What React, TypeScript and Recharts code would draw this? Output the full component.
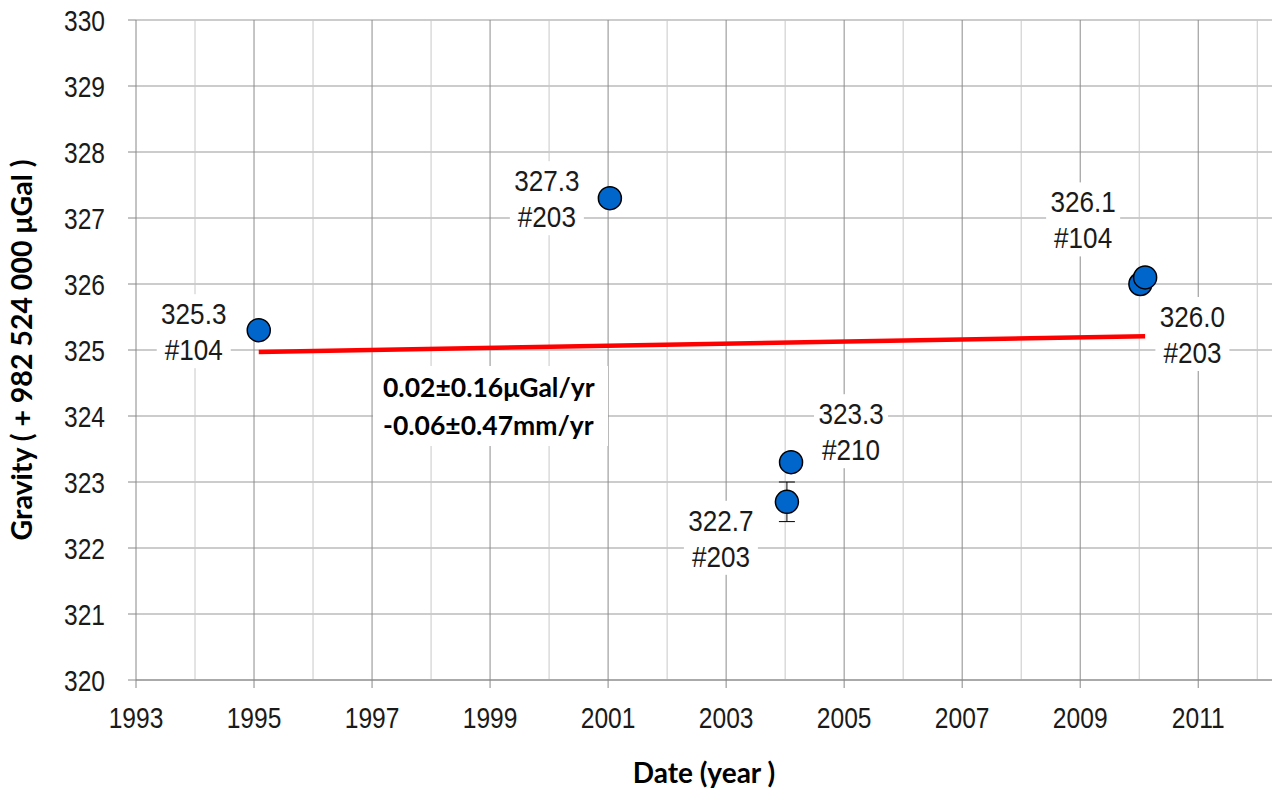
import {
  ComposedChart,
  Scatter,
  Line,
  XAxis,
  YAxis,
  CartesianGrid,
  ReferenceLine,
  ErrorBar,
} from "recharts";

// observation dates (decimal year), gravity values, error, station ids
const dates = [1995.08, 2001.03, 2004.03, 2004.1, 2010.02, 2010.1];
const gravity = [325.3, 327.3, 322.7, 323.3, 326.0, 326.1];
const errors = [0, 0, 0.3, 0, 0, 0];
const stations = ["#104", "#203", "#203", "#210", "#203", "#104"];

// linear fit end points
const trendDates = [1995.08, 2010.1];
const trendValues = [324.97, 325.21];

const yTicks = [320, 321, 322, 323, 324, 325, 326, 327, 328, 329, 330];
const xTicks = [1993, 1995, 1997, 1999, 2001, 2003, 2005, 2007, 2009, 2011];
const gridYears = [
  1994, 1995, 1996, 1997, 1998, 1999, 2000, 2001, 2002, 2003, 2004, 2005,
  2006, 2007, 2008, 2009, 2010, 2011, 2012,
];

const points = dates.map((d, i) => ({
  date: d,
  value: gravity[i],
  err: errors[i],
  station: stations[i],
}));
const trend = trendDates.map((d, i) => ({ date: d, fit: trendValues[i] }));

// label placement around each point (first line centre relative to the marker)
const labelPlace = [
  { dx: -65, dy: -17 },
  { dx: -63, dy: -18 },
  { dx: -66, dy: 18 },
  { dx: 60, dy: -49 },
  { dx: 52, dy: 32 },
  { dx: -62, dy: -76 },
];

const narrowFont = "'Liberation Sans', Arial, sans-serif";

function NarrowText({ x, y, anchor, dy, size, sx, children }: any) {
  return (
    <g transform={`translate(${x},${y}) scale(${sx},1)`}>
      <text x={0} y={0} dy={dy} textAnchor={anchor} fontFamily={narrowFont} fontSize={size} fill="#1a1a1a">
        {children}
      </text>
    </g>
  );
}

function XTick(props: any) {
  const { x, y, payload } = props;
  return (
    <NarrowText x={x} y={y} anchor="middle" dy="0.71em" size={30} sx={0.82}>
      {payload.value}
    </NarrowText>
  );
}

function YTick(props: any) {
  const { x, y, payload } = props;
  return (
    <NarrowText x={x} y={y} anchor="end" dy="0.36em" size={30} sx={0.82}>
      {payload.value}
    </NarrowText>
  );
}

function PointShape(props: any) {
  const { cx, cy, payload, index } = props;
  const p = labelPlace[index] || { dx: 0, dy: 0 };
  const lx = cx + p.dx;
  const ly = cy + p.dy;
  return (
    <g>
      <rect x={lx - 37} y={ly - 19} width={74} height={74} fill="#fff" />
      <NarrowText x={lx} y={ly} anchor="middle" dy="0.36em" size={30} sx={0.87}>
        {payload.value.toFixed(1)}
      </NarrowText>
      <NarrowText x={lx} y={ly + 36} anchor="middle" dy="0.36em" size={30} sx={0.87}>
        {payload.station}
      </NarrowText>
      <circle cx={cx} cy={cy} r={11.5} fill="#0066CC" stroke="#000" strokeWidth={1.5} />
    </g>
  );
}

export default function App() {
  return (
    <div style={{ position: "relative", width: 1273, height: 791 }}>
      <style>{`body{margin:0}`}</style>
      <ComposedChart
        width={1273}
        height={791}
        margin={{ top: 20, right: 1, left: 0, bottom: 0 }}
      >
        <CartesianGrid vertical={false} stroke="#999" strokeWidth={1} />
        {gridYears.map((yr) => (
          <ReferenceLine
            key={yr}
            x={yr}
            stroke={yr % 2 === 1 ? "#8c8c8c" : "#c8c8c8"}
            strokeWidth={1}
          />
        ))}
        <XAxis
          dataKey="date"
          type="number"
          domain={[1993, 2012.25]}
          ticks={xTicks}
          allowDataOverflow
          height={111}
          tickSize={8}
          tickMargin={19}
          stroke="#888"
          tick={<XTick />}
          label={{
            value: "Date (year )",
            position: "insideBottom",
            offset: 8,
            style: { fontFamily: "Lato, sans-serif", fontWeight: 700, fontSize: 28, fill: "#000" },
          }}
        />
        <YAxis
          type="number"
          domain={[320, 330]}
          ticks={yTicks}
          width={136}
          tickSize={8}
          tickMargin={23}
          stroke="#888"
          tick={<YTick />}
          label={{
            value: "Gravity ( + 982 524 000 μGal )",
            angle: -90,
            position: "insideLeft",
            offset: 22,
            style: {
              textAnchor: "middle",
              fontFamily: "Lato, sans-serif",
              fontWeight: 700,
              fontSize: 28.5,
              fill: "#000",
            },
          }}
        />
        <Line
          data={trend}
          dataKey="fit"
          stroke="#FF0000"
          strokeWidth={4.5}
          dot={false}
          activeDot={false}
          isAnimationActive={false}
        />
        <Scatter
          data={points}
          dataKey="value"
          shape={PointShape}
          isAnimationActive={false}
        >
          <ErrorBar dataKey="err" direction="y" width={8} stroke="#000" strokeWidth={1} />
        </Scatter>
      </ComposedChart>
      <div
        style={{
          position: "absolute",
          left: 373,
          top: 366,
          width: 235,
          height: 80,
          background: "#fff",
          fontFamily: "Lato, sans-serif",
          fontWeight: 700,
          fontSize: 26.5,
          lineHeight: "38px",
          color: "#000",
          paddingLeft: 10,
          boxSizing: "border-box",
          paddingTop: 2,
        }}
      >
        <div>0.02±0.16μGal/yr</div>
        <div>-0.06±0.47mm/yr</div>
      </div>
    </div>
  );
}
